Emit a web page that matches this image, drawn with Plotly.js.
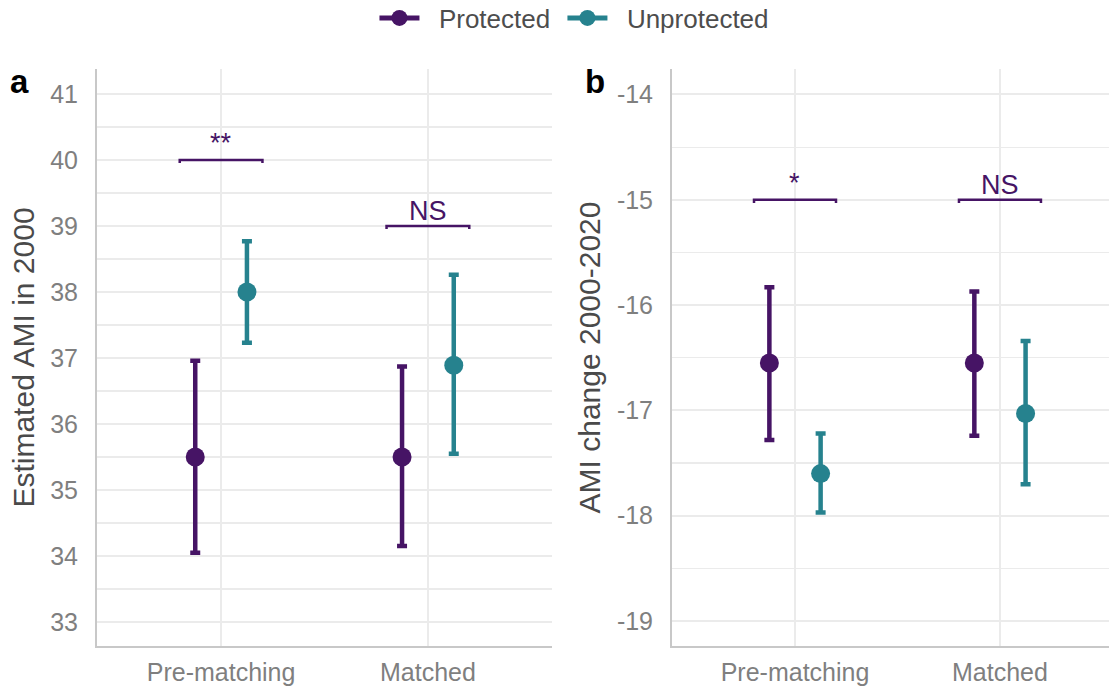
<!DOCTYPE html>
<html>
<head>
<meta charset="utf-8">
<script src="https://cdn.plot.ly/plotly-3.0.1.min.js"></script>
<style>html,body{margin:0;padding:0;background:#fff;}#chart{width:1109px;height:688px;}</style>
</head>
<body>
<div id="chart"></div>
<script>
// ---- data ----
const categories = ['Pre-matching', 'Matched'];
const groups = ['Protected', 'Unprotected'];

// Panel a: Estimated AMI in 2000
const amiProtected = [35.5, 35.5];
const amiProtectedLow = [34.05, 34.15];
const amiProtectedHigh = [36.96, 36.87];
const amiUnprotected = [38.0, 36.89];
const amiUnprotectedLow = [37.23, 35.55];
const amiUnprotectedHigh = [38.77, 38.26];

// Panel b: AMI change 2000-2020
const chgProtected = [-16.55, -16.55];
const chgProtectedLow = [-17.28, -17.24];
const chgProtectedHigh = [-15.83, -15.87];
const chgUnprotected = [-17.60, -17.03];
const chgUnprotectedLow = [-17.97, -17.70];
const chgUnprotectedHigh = [-17.22, -16.34];

// significance brackets
const sigLabelsA = ['**', 'NS'];
const sigYA = [40, 39];
const sigLabelsB = ['*', 'NS'];
const sigYB = [-15, -15];

const yTicksA = [33, 34, 35, 36, 37, 38, 39, 40, 41];
const yTicksB = [-19, -18, -17, -16, -15, -14];

// ---- styling ----
const colProt = '#461465';
const colUnprot = '#26828E';
const FONT = 'Liberation Sans, Arial, sans-serif';
const dodge = 0.125;
const legendPad = '\u00a0\u00a0';
const legendNames = groups.map((g, i) => legendPad + g + (i < groups.length - 1 ? '\u00a0' : ''));

function errTrace(name, y, lo, hi, color, off, xa, ya) {
  return {
    type: 'scatter', mode: 'markers', name: name, showlegend: false,
    x: categories.map((c, i) => i + 1 + off), y: y,
    xaxis: xa, yaxis: ya,
    marker: {color: color, size: 19},
    error_y: {type: 'data', symmetric: false,
      array: y.map((v, i) => hi[i] - v),
      arrayminus: y.map((v, i) => v - lo[i]),
      color: color, thickness: 4.5, width: 5},
    hoverinfo: 'skip'
  };
}

const traces = [
  errTrace(groups[0], amiProtected, amiProtectedLow, amiProtectedHigh, colProt, -dodge, 'x', 'y'),
  errTrace(groups[1], amiUnprotected, amiUnprotectedLow, amiUnprotectedHigh, colUnprot, dodge, 'x', 'y'),
  errTrace(groups[0], chgProtected, chgProtectedLow, chgProtectedHigh, colProt, -dodge, 'x2', 'y2'),
  errTrace(groups[1], chgUnprotected, chgUnprotectedLow, chgUnprotectedHigh, colUnprot, dodge, 'x2', 'y2'),
  {type: 'scatter', mode: 'lines+markers', name: legendNames[0], x: [null], y: [null],
   line: {color: colProt, width: 5}, marker: {color: colProt, size: 17}, showlegend: true},
  {type: 'scatter', mode: 'lines+markers', name: legendNames[1], x: [null], y: [null],
   line: {color: colUnprot, width: 5}, marker: {color: colUnprot, size: 17}, showlegend: true}
];

const shapes = [];
const annotations = [];
function addBrackets(labels, ys, xa, ya, dy) {
  labels.forEach((lab, i) => {
    const xc = i + 1, y = ys[i];
    shapes.push({type: 'path', xref: xa, yref: ya,
      path: `M ${xc - 0.2} ${y - dy} L ${xc - 0.2} ${y} L ${xc + 0.2} ${y} L ${xc + 0.2} ${y - dy}`,
      line: {color: colProt, width: 2.5}});
    annotations.push({xref: xa, yref: ya, x: xc, y: y, text: lab, showarrow: false,
      xanchor: 'center', yanchor: 'bottom', yshift: lab === 'NS' ? -2 : 0,
      font: {family: FONT, size: 27, color: colProt}});
  });
}
addBrackets(sigLabelsA, sigYA, 'x', 'y', 0.045);
addBrackets(sigLabelsB, sigYB, 'x2', 'y2', 0.03);

annotations.push({xref: 'paper', yref: 'paper', x: -0.0761, y: 0.9775, text: '<b>a</b>',
  showarrow: false, xanchor: 'center', yanchor: 'middle', font: {family: FONT, size: 33, color: '#000'}});
annotations.push({xref: 'paper', yref: 'paper', x: 0.4921, y: 0.9775, text: '<b>b</b>',
  showarrow: false, xanchor: 'center', yanchor: 'middle', font: {family: FONT, size: 33, color: '#000'}});

const gridCol = '#ebebeb';
const tickFont = {family: FONT, size: 25, color: '#7f7f7f'};
function xAxis(domain, range) {
  return {domain: domain, range: range, tickvals: [1, 2], ticktext: categories,
    showgrid: true, gridcolor: gridCol, gridwidth: 2, zeroline: false,
    showline: true, linecolor: '#c8c8c8', linewidth: 2,
    ticks: 'outside', ticklen: 3, tickcolor: 'rgba(0,0,0,0)',
    tickfont: tickFont, fixedrange: true, automargin: false};
}
function yAxis(range, tickvals, title, anchor) {
  return {range: range, tickvals: tickvals, ticktext: tickvals.map(v => v < 0 ? '-' + Math.abs(v) : String(v)),
    anchor: anchor,
    showgrid: true, gridcolor: gridCol, gridwidth: 2, zeroline: false,
    minor: {dtick: 0.5, tick0: 0, showgrid: true, gridcolor: gridCol, gridwidth: 1.2, ticks: ''},
    showline: true, linecolor: '#c8c8c8', linewidth: 2,
    ticks: 'outside', ticklen: 12, tickcolor: 'rgba(0,0,0,0)',
    tickfont: tickFont, fixedrange: true, automargin: false,
    title: {text: title, font: {family: FONT, size: 30, color: '#4a4a4a'}, standoff: 7}};
}

const layout = {
  width: 1109, height: 688,
  margin: {l: 97, r: 0, t: 69, b: 42, autoexpand: false},
  paper_bgcolor: '#fff', plot_bgcolor: '#fff',
  font: {family: FONT},
  showlegend: true,
  legend: {orientation: 'h', x: 0.4718, xanchor: 'center', y: 1.0884, yanchor: 'middle',
    font: {family: FONT, size: 26, color: '#4d4d4d'}, itemwidth: 40, bgcolor: 'rgba(0,0,0,0)'},
  xaxis: xAxis([0, 0.4496], [0.4, 2.6]),
  xaxis2: Object.assign(xAxis([0.5682, 1], [0.4, 2.532]), {anchor: 'y2'}),
  yaxis: yAxis([32.636, 41.379], yTicksA, 'Estimated AMI in 2000', 'x'),
  yaxis2: yAxis([-19.237, -13.758], yTicksB, 'AMI change 2000-2020', 'x2'),
  shapes: shapes,
  annotations: annotations,
  hovermode: false
};
layout.xaxis.anchor = 'y';

Plotly.newPlot('chart', traces, layout, {displayModeBar: false, staticPlot: true});
</script>
</body>
</html>
